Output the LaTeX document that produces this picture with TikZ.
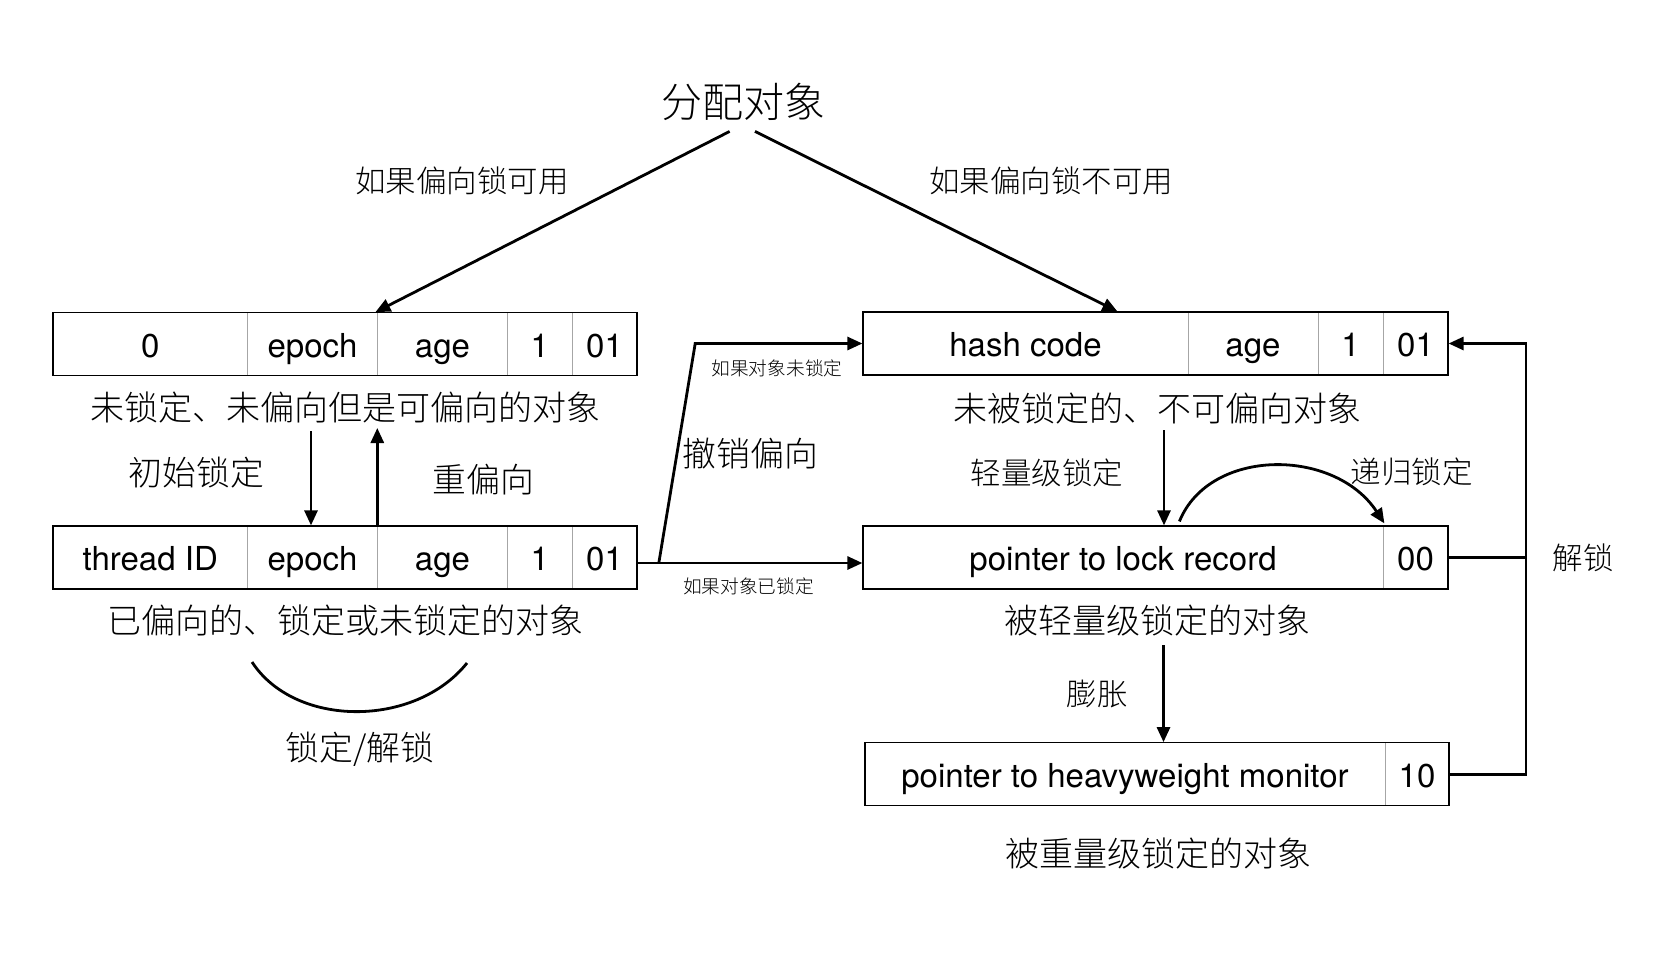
\documentclass[tikz,border=0pt]{standalone}
\usepackage{fontspec}
\setmainfont{TeX Gyre Heros}
\IfFontExistsTF{Noto Sans CJK SC Light}{\newfontfamily\cjk{Noto Sans CJK SC Light}}{\newfontfamily\cjk{Noto Sans CJK SC}}
\usetikzlibrary{arrows.meta,calc}
\begin{document}
\begin{tikzpicture}[x=1pt,y=-1pt,
  cell/.style={draw=black!35, line width=0.8pt, minimum height=63pt, inner sep=0pt,
    text height=30pt, text depth=3.4pt, font=\fontsize{33}{36}\selectfont},
  frame/.style={draw=black, line width=1.2pt, minimum height=63pt, inner sep=0pt},
  arr/.style={line width=2.8pt, -{Triangle[length=15pt,width=13pt]}},
  ln/.style={line width=2.8pt},
  captxt/.style={font=\cjk\fontsize{34}{38}\selectfont, inner sep=0pt},
  lab/.style={font=\cjk\fontsize{30.5}{34}\selectfont, inner sep=0pt},
  midlab/.style={font=\cjk\fontsize{33.8}{37}\selectfont, inner sep=0pt},
  small/.style={font=\cjk\fontsize{18.7}{21}\selectfont, inner sep=0pt},
  title/.style={font=\cjk\fontsize{41}{45}\selectfont, inner sep=0pt}
]
\useasboundingbox (0,0) rectangle (1658,962);
\fill[white] (0,0) rectangle (1658,962);

% Box A
\node[cell, minimum width=194.5pt] (a1) at (150.25,344.25) {0};
\node[cell, minimum width=130pt] (a2) at (312.5,344.25) {epoch};
\node[cell, minimum width=130pt] (a3) at (442.5,344.25) {age};
\node[cell, minimum width=64.5pt] (a4) at (539.75,344.25) {1};
\node[cell, minimum width=65pt] (a5) at (604.5,344.25) {01};
\node[frame, minimum width=584pt] (A) at (345,344.25) {};

% Box B
\node[cell, minimum width=194.5pt] (b1) at (150.25,557.5) {thread ID};
\node[cell, minimum width=130pt] (b2) at (312.5,557.5) {epoch};
\node[cell, minimum width=130pt] (b3) at (442.5,557.5) {age};
\node[cell, minimum width=64.5pt] (b4) at (539.75,557.5) {1};
\node[cell, minimum width=65pt] (b5) at (604.5,557.5) {01};
\node[frame, minimum width=584pt] (B) at (345,557.5) {};

% Box C
\node[cell, minimum width=325pt] (c1) at (1025.5,343.5) {hash code};
\node[cell, minimum width=130pt] (c2) at (1253,343.5) {age};
\node[cell, minimum width=65pt] (c3) at (1350.5,343.5) {1};
\node[cell, minimum width=65pt] (c4) at (1415.5,343.5) {01};
\node[frame, minimum width=585pt] (C) at (1155.5,343.5) {};

% Box D
\node[cell, minimum width=520pt] (d1) at (1123,557.5) {pointer to lock record};
\node[cell, minimum width=65pt] (d2) at (1415.5,557.5) {00};
\node[frame, minimum width=585pt] (D) at (1155.5,557.5) {};

% Box E
\node[cell, minimum width=520pt] (e1) at (1125,774.25) {pointer to heavyweight monitor};
\node[cell, minimum width=64pt] (e2) at (1417,774.25) {10};
\node[frame, minimum width=584pt] (E) at (1157,774.25) {};

% Labels
\node[title] (T) at (743,101.5) {分配对象};
\node[lab] (l1) at (462,181) {如果偏向锁可用};
\node[lab] (l2) at (1051,181) {如果偏向锁不可用};
\node[captxt] (capA) at (345,408) {未锁定、未偏向但是可偏向的对象};
\node[midlab] (l3) at (196.5,473) {初始锁定};
\node[midlab] (l4) at (483.5,480) {重偏向};
\node[captxt] (capB) at (345.8,620.7) {已偏向的、锁定或未锁定的对象};
\node[midlab] (l5) at (360,749) {锁定/解锁};
\node[midlab] (l6) at (750.5,454) {撤销偏向};
\node[small] (l7) at (777,368) {如果对象未锁定};
\node[small] (l8) at (748.6,586) {如果对象已锁定};
\node[captxt] (capC) at (1157,409) {未被锁定的、不可偏向对象};
\node[lab] (l9) at (1047,472.5) {轻量级锁定};
\node[lab] (l10) at (1411.5,472) {递归锁定};
\node[captxt] (capD) at (1157,620.7) {被轻量级锁定的对象};
\node[lab] (l11) at (1097,693.5) {膨胀};
\node[lab] (l12) at (1583,558.3) {解锁};
\node[captxt] (capE) at (1158,853) {被重量级锁定的对象};

% Connectors from the title
\draw[arr] ($(T.south)+(-13.4,11)$) -- ($(A.north west)+(323,0)$);
\draw[arr] ($(T.south)+(12,11)$) -- ($(C.north west)+(255,0)$);

% A <-> B
\coordinate (dn) at (311,431);
\coordinate (up) at (377.3,428);
\draw[arr] (dn) -- (dn |- B.north);
\draw[arr] (up |- B.north) -- (up);

% revoke bias
\coordinate (br) at (658.8,563);
\coordinate (bk) at (695.2,343.5);
\draw[arr] (B.east |- br) -- (D.west |- br);
\draw[arr] (br) -- (bk) -- (C.west |- bk);

% lightweight lock
\coordinate (lw) at (1164,430);
\draw[arr] (lw) -- (lw |- D.north);

% recursive lock
\draw[arr] ($(D.north west)+(317,-4)$) .. controls ($(D.north west)+(347,-78)$) and ($(D.north west)+(472,-78)$) .. ($(D.north west)+(522,-2)$);

% inflate
\coordinate (inf) at (1163.5,645);
\draw[arr] (inf) -- (inf |- E.north);

% unlock
\coordinate (rx) at (1526,0);
\draw[arr] (E.east) -- (E.east -| rx) -- (C.east -| rx) -- (C.east);
\draw[ln] (D.east) -- (D.east -| rx);

% lock/unlock arc
\draw[ln] (252,662) .. controls (295,728) and (415,728) .. (467,663);
\end{tikzpicture}
\end{document}
